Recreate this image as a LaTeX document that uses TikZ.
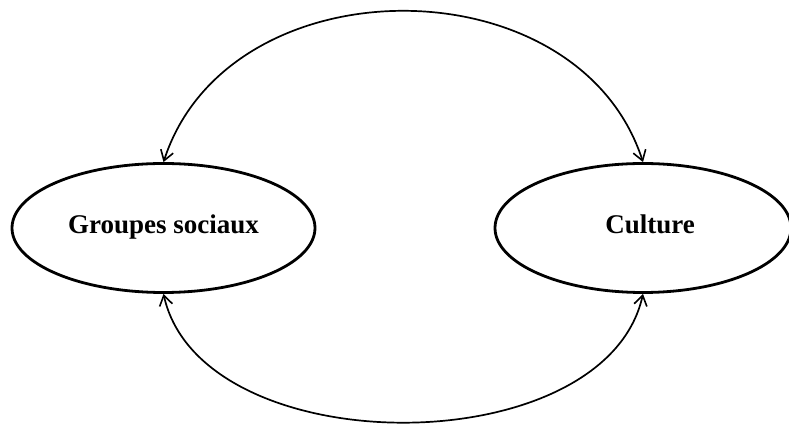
\documentclass[tikz,border=0pt]{standalone}
\usepackage{fontspec}
\setmainfont{Liberation Serif}
\usetikzlibrary{shapes.geometric,arrows.meta}
\begin{document}
\begin{tikzpicture}[x=1pt,y=1pt,
  oval/.style={ellipse, draw, line width=2.8pt, inner sep=0pt,
    minimum height=129pt, font=\fontsize{27}{31}\selectfont\bfseries,
    text height=18pt, text depth=6pt},
  link/.style={line width=1.7pt, {Straight Barb[length=10pt,width=13pt,line width=1.6pt]}-{Straight Barb[length=10pt,width=13pt,line width=1.6pt]}}
]
\useasboundingbox (0,0) rectangle (789,425);
\node[oval, minimum width=303pt] (L) at (163.5,197) {Groupes sociaux};
\node[oval, minimum width=296pt] (R) at (643,197) {\hspace*{14pt}Culture};
\draw[link] (L.north) .. controls +(65,201) and +(-65,201) .. (R.north);
\draw[link] (L.south) .. controls +(38,-171) and +(-38,-171) .. (R.south);
\end{tikzpicture}
\end{document}
